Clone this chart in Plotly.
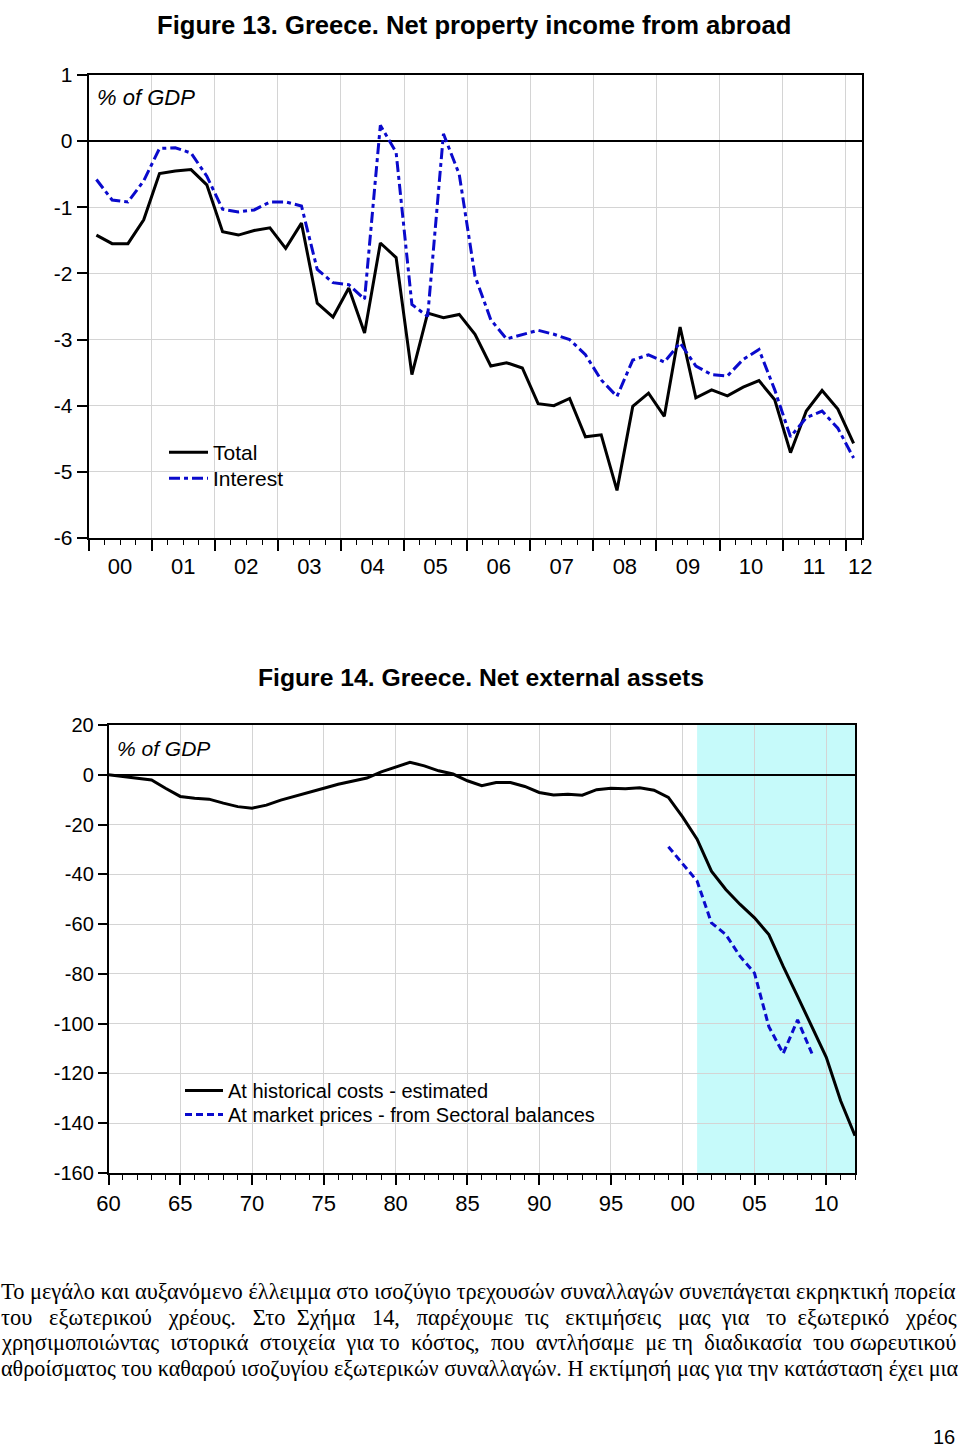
import plotly.graph_objects as go

# ---------------- Figure 13 data (quarterly, % of GDP) ----------------
quarters = [f"{y}Q{q}" for y in range(2000, 2013) for q in range(1, 5)][:49]
total = [-1.42, -1.55, -1.55, -1.19, -0.49, -0.45, -0.43, -0.66, -1.37, -1.42,
         -1.35, -1.31, -1.62, -1.24, -2.45, -2.66, -2.22, -2.90, -1.54, -1.76,
         -3.53, -2.60, -2.67, -2.62, -2.92, -3.40, -3.35, -3.43, -3.97, -4.00,
         -3.89, -4.47, -4.44, -5.28, -4.01, -3.81, -4.16, -2.81, -3.88, -3.76,
         -3.85, -3.72, -3.62, -3.91, -4.71, -4.08, -3.77, -4.05, -4.57]
interest = [-0.58, -0.89, -0.92, -0.60, -0.11, -0.10, -0.18, -0.53, -1.03, -1.07,
            -1.04, -0.92, -0.92, -0.98, -1.94, -2.14, -2.17, -2.39, 0.24, -0.17,
            -2.47, -2.65, 0.11, -0.50, -2.04, -2.70, -2.99, -2.92, -2.86, -2.92,
            -3.00, -3.23, -3.61, -3.86, -3.31, -3.23, -3.34, -3.05, -3.40, -3.53,
            -3.55, -3.30, -3.15, -3.76, -4.47, -4.18, -4.08, -4.34, -4.79]
years13 = list(range(2000, 2013))
year_labels13 = ["00", "01", "02", "03", "04", "05", "06", "07", "08", "09", "10", "11", "12"]
y13_ticks = [1, 0, -1, -2, -3, -4, -5, -6]
y13_labels = ["1", "0", "-1", "-2", "-3", "-4", "-5", "-6"]

# ---------------- Figure 14 data (annual, % of GDP) ----------------
years14 = list(range(1960, 2013))
historical = [0.0, -0.8, -1.5, -2.1, -5.5, -8.7, -9.4, -9.8, -11.4, -12.8,
              -13.4, -12.2, -10.2, -8.7, -7.1, -5.4, -3.8, -2.7, -1.3, 1.2,
              3.0, 5.0, 3.6, 1.6, 0.3, -2.4, -4.4, -3.1, -3.1, -4.7,
              -7.1, -8.1, -7.8, -8.2, -6.0, -5.4, -5.6, -5.2, -6.2, -9.1,
              -17.0, -25.9, -38.7, -46.1, -52.1, -57.5, -64.2, -77.0, -89.0, -101.2,
              -113.5, -131.0, -145.0]
market_years = list(range(1999, 2010))
market = [-28.9, -36.0, -42.7, -59.5, -64.2, -73.0, -79.7, -101.2, -112.0, -98.5, -112.0]
x14_ticks = [1960, 1965, 1970, 1975, 1980, 1985, 1990, 1995, 2000, 2005, 2010]
x14_labels = ["60", "65", "70", "75", "80", "85", "90", "95", "00", "05", "10"]
y14_ticks = [20, 0, -20, -40, -60, -80, -100, -120, -140, -160]
y14_labels = ["20", "0", "-20", "-40", "-60", "-80", "-100", "-120", "-140", "-160"]
shade_span = [2001, 2012]

text_lines = [
    "Το μεγάλο και αυξανόμενο έλλειμμα στο ισοζύγιο τρεχουσών συναλλαγών συνεπάγεται εκρηκτική πορεία",
    "του εξωτερικού χρέους. Στο Σχήμα 14, παρέχουμε τις εκτιμήσεις μας για το εξωτερικό χρέος",
    "χρησιμοποιώντας ιστορικά στοιχεία για το κόστος, που αντλήσαμε με τη διαδικασία του σωρευτικού",
    "αθροίσματος του καθαρού ισοζυγίου εξωτερικών συναλλαγών. Η εκτίμησή μας για την κατάσταση έχει μια",
]
page_number = "16"

OX, OY = 0, 0
W, H = 960, 1449
def px(x):
    return (x - OX) / W
def py(y):
    return 1 - (y - OY) / H

SANS = "Liberation Sans, Arial, sans-serif"
SERIF = "Liberation Serif, Times New Roman, serif"
BLUE = "#0A0ACC"
GRID = "#D4D4D4"

x13 = [int(p[:4]) + (int(p[-1]) - 1) / 4 + 0.125 for p in quarters]

fig = go.Figure()
fig.add_trace(go.Scatter(x=x13, y=total, mode="lines", name="Total",
                         line=dict(color="black", width=3),
                         xaxis="x", yaxis="y", legend="legend"))
fig.add_trace(go.Scatter(x=x13, y=interest, mode="lines", name="Interest",
                         line=dict(color=BLUE, width=3, dash="11px,4px,4px,4px"),
                         xaxis="x", yaxis="y", legend="legend3"))
# carrier for the year-label axis of figure 13
fig.add_trace(go.Scatter(x=[years13[0]], y=[None], mode="none", showlegend=False,
                         hoverinfo="skip", xaxis="x3", yaxis="y"))

fig.add_trace(go.Scatter(x=years14, y=historical, mode="lines",
                         name="At historical costs - estimated",
                         line=dict(color="black", width=3),
                         xaxis="x2", yaxis="y2", legend="legend2"))
fig.add_trace(go.Scatter(x=market_years, y=market, mode="lines",
                         name="At market prices - from Sectoral balances",
                         line=dict(color=BLUE, width=3, dash="7px,4px"),
                         xaxis="x2", yaxis="y2", legend="legend4"))

label_pos13 = [y + 0.5 for y in years13[:-1]] + [years13[-1] + 0.23]

def leg(x, ytop, size, iw):
    return dict(x=px(x), y=py(ytop), xanchor="left", yanchor="top",
                bgcolor="rgba(0,0,0,0)", font=dict(size=size), itemwidth=iw,
                itemclick=False)

fig.update_layout(
    width=W, height=H, autosize=False,
    margin=dict(l=0, r=0, t=0, b=0, pad=0),
    paper_bgcolor="white", plot_bgcolor="white",
    font=dict(family=SANS, color="black"),
    xaxis=dict(domain=[px(88.5), px(861.5)], range=[2000, 2012.25], anchor="y",
               tick0=2000, dtick=1, showticklabels=False, automargin=False,
               ticks="outside", ticklen=11, tickwidth=1.5, tickcolor="black",
               minor=dict(tick0=2000, dtick=0.25, ticks="outside", ticklen=5,
                          tickwidth=1.2, tickcolor="black", showgrid=False),
               showgrid=True, gridcolor=GRID, gridwidth=1,
               showline=True, linecolor="black", linewidth=1.5, mirror=True,
               zeroline=False),
    xaxis3=dict(overlaying="x", anchor="y", side="bottom", range=[2000, 2012.25],
                tickmode="array", tickvals=label_pos13, ticktext=year_labels13,
                ticks="", showgrid=False, showline=False, zeroline=False, automargin=False,
                ticklabelstandoff=13, tickfont=dict(size=22)),
    yaxis=dict(domain=[py(538), py(75)], range=[-6, 1], anchor="x", automargin=False,
               tickmode="array", tickvals=y13_ticks, ticktext=y13_labels,
               ticks="outside", ticklen=10, tickwidth=1.5, tickcolor="black",
               tickfont=dict(size=21),
               showgrid=True, gridcolor=GRID, gridwidth=1,
               zeroline=True, zerolinecolor="black", zerolinewidth=1.5,
               showline=True, linecolor="black", linewidth=1.5, mirror=True),
    xaxis2=dict(domain=[px(108.5), px(855)], range=[1960, 2012], anchor="y2", automargin=False,
                tickmode="array", tickvals=x14_ticks, ticktext=x14_labels,
                ticks="outside", ticklen=10, tickwidth=1.5, tickcolor="black",
                tickfont=dict(size=22),
                minor=dict(tick0=1960, dtick=1, ticks="outside", ticklen=5,
                           tickwidth=1.2, tickcolor="black", showgrid=False),
                showgrid=True, gridcolor=GRID, gridwidth=1,
                showline=True, linecolor="black", linewidth=1.5, mirror=True,
                zeroline=False),
    yaxis2=dict(domain=[py(1173), py(725)], range=[-160, 20], anchor="x2", automargin=False,
                tickmode="array", tickvals=y14_ticks, ticktext=y14_labels,
                ticks="outside", ticklen=9, tickwidth=1.5, tickcolor="black",
                tickfont=dict(size=20),
                showgrid=True, gridcolor=GRID, gridwidth=1,
                zeroline=True, zerolinecolor="black", zerolinewidth=1.5,
                showline=True, linecolor="black", linewidth=1.5, mirror=True),
    legend=leg(164, 432, 21, 39),
    legend3=leg(164, 458, 21, 39),
    legend2=leg(180, 1071, 20, 38),
    legend4=leg(180, 1095, 20, 38),
    shapes=[dict(type="rect", xref="x2", yref="y2", x0=shade_span[0], x1=shade_span[1],
                 y0=-160, y1=20, fillcolor="#C6FAFA", line=dict(width=0), layer="below")],
)

ann = []
ann.append(dict(text="<b>Figure 13. Greece. Net property income from abroad</b>",
                x=px(474), y=py(25), xref="paper", yref="paper", showarrow=False,
                xanchor="center", yanchor="middle", font=dict(size=25.6, family=SANS)))
ann.append(dict(text="<b>Figure 14. Greece. Net external assets</b>",
                x=px(481), y=py(678), xref="paper", yref="paper", showarrow=False,
                xanchor="center", yanchor="middle", font=dict(size=24.7, family=SANS)))
ann.append(dict(text="<i>% of GDP</i>", x=px(95), y=py(98), xref="paper", yref="paper",
                showarrow=False, xanchor="left", yanchor="middle", font=dict(size=22)))
ann.append(dict(text="<i>% of GDP</i>", x=px(115), y=py(748), xref="paper", yref="paper",
                showarrow=False, xanchor="left", yanchor="middle", font=dict(size=21)))

# justified paragraph: spaces used in each word gap and font size, per line
line_y = [1292, 1317, 1342, 1368]
line_size = [22.4, 22.4, 22.4, 22.2]
gap_spaces = [
    [1] * 11,
    [3, 3, 3, 2, 3, 3, 2, 3, 3, 2, 3, 2, 3],
    [2, 2, 2, 1, 2, 2, 2, 2, 1, 2, 2, 1],
    [1] * 12,
]
for t, yy, fs, gs in zip(text_lines, line_y, line_size, gap_spaces):
    words = t.split(" ")
    s = words[0]
    for i, w in enumerate(words[1:]):
        n = gs[i] if i < len(gs) else 1
        s += "\u00a0" * n + w
    ann.append(dict(text=s, x=px(-1), y=py(yy), xref="paper", yref="paper",
                    showarrow=False, xanchor="left", yanchor="middle",
                    font=dict(size=fs, family=SERIF)))
ann.append(dict(text=page_number, x=px(957), y=py(1437), xref="paper", yref="paper",
                showarrow=False, xanchor="right", yanchor="middle", font=dict(size=20)))
fig.update_layout(annotations=ann)

# remove the browser's default 8px page margin so the figure fills the window
fig.write_html("out.html", config={"displayModeBar": False},
               post_script="document.body.style.margin='0';")
